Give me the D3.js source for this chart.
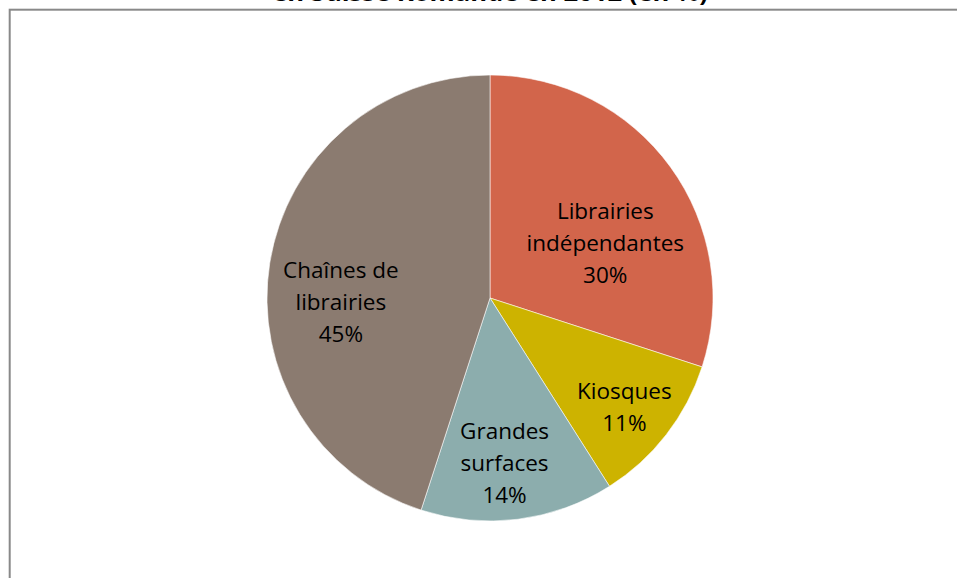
<!DOCTYPE html>
<html>
<head>
<meta charset="utf-8">
<script src="https://cdn.jsdelivr.net/npm/d3@7/dist/d3.min.js"></script>
<style>
  html, body { margin: 0; padding: 0; background: #fff; }
  svg { display: block; }
</style>
</head>
<body>
<svg id="chart" width="957" height="578"></svg>
<script>
// ---- data ----
const categories = ["Librairies indépendantes", "Kiosques", "Grandes surfaces", "Chaînes de librairies"];
const labelLines = [["Librairies", "indépendantes"], ["Kiosques"], ["Grandes", "surfaces"], ["Chaînes de", "librairies"]];
const values = [30, 11, 14, 45];
const colors = ["#D2654B", "#CDB300", "#8CADAD", "#8B7B70"];
const titleText = "en Suisse Romande en 2012 (en %)";

// ---- layout ----
const W = 957, H = 578;
const cx = 490, cy = 298, R = 223;
const labelRadiusFrac = 0.7;
const labelNudge = [[-11, 13], [11, 5], [-5, -14], [5, 4]];
const lineH = 32;
const fontFamily = "'Open Sans', 'Noto Sans', sans-serif";

const svg = d3.select("#chart");

// frame
svg.append("rect")
  .attr("x", 9.7).attr("y", 9.7)
  .attr("width", W + 50).attr("height", H + 50)
  .attr("fill", "#fff")
  .attr("stroke", "#898989")
  .attr("stroke-width", 2);

// title (partially cut off at top, as in the reference)
const title = svg.append("text")
  .attr("x", 490).attr("y", 1)
  .attr("text-anchor", "middle")
  .attr("font-family", fontFamily)
  .attr("font-weight", "bold")
  .attr("font-size", 22)
  .attr("fill", "#000")
  .text(titleText);
{
  const targetW = 436;
  const w = title.node().getComputedTextLength();
  if (w > 0) title.attr("font-size", 22 * targetW / w);
}

const pie = d3.pie().sort(null).value(d => d.value).startAngle(0).endAngle(2 * Math.PI);
const data = categories.map((c, i) => ({ name: c, value: values[i], color: colors[i], lines: labelLines[i], nudge: labelNudge[i] }));
const arcs = pie(data);

const arc = d3.arc().innerRadius(0).outerRadius(R);
const labelArc = d3.arc().innerRadius(R * labelRadiusFrac).outerRadius(R * labelRadiusFrac);

const g = svg.append("g").attr("transform", `translate(${cx},${cy})`);

g.selectAll("path.slice")
  .data(arcs)
  .join("path")
  .attr("class", "slice")
  .attr("d", arc)
  .attr("fill", d => d.data.color)
  .attr("stroke", "#fff")
  .attr("stroke-width", 0.8)
  .attr("stroke-opacity", 0.7);

const total = d3.sum(values);
const labels = g.selectAll("text.lbl")
  .data(arcs)
  .join("text")
  .attr("class", "lbl")
  .attr("text-anchor", "middle")
  .attr("font-family", fontFamily)
  .attr("font-size", 22.5)
  .attr("fill", "#000")
  .attr("transform", d => {
    const [x, y] = labelArc.centroid(d);
    return `translate(${x + d.data.nudge[0]},${y + d.data.nudge[1]})`;
  });

labels.each(function(d) {
  const t = d3.select(this);
  const lines = d.data.lines.concat([Math.round(d.data.value / total * 100) + "%"]);
  lines.forEach((ln, i) => {
    t.append("tspan").attr("x", 0).attr("y", i * lineH).text(ln);
  });
});
</script>
</body>
</html>
